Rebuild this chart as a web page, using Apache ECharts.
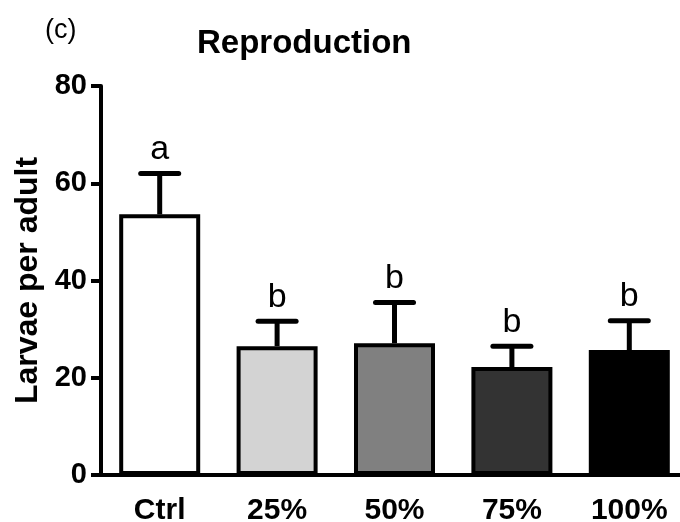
<!DOCTYPE html>
<html>
<head>
<meta charset="utf-8">
<title>Reproduction</title>
<script src="https://cdn.jsdelivr.net/npm/echarts@6/dist/echarts.min.js"></script>
<style>
    html, body { margin: 0; padding: 0; background: #fff; }
    #chart { width: 680px; height: 522px; }
</style>
</head>
<body>
<div id="chart"></div>
<script>
// data
var categories = ["Ctrl", "25%", "50%", "75%", "100%"];
var means = [53.6, 26.5, 27.1, 22.2, 25.7];
var errors = [8.4, 5.1, 8.4, 4.3, 6.0];
var letters = ["a", "b", "b", "b", "b"];
var barColors = ["#ffffff", "#d3d3d3", "#808080", "#333333", "#000000"];
var yTicks = [0, 20, 40, 60, 80];

var font = "'Liberation Sans', Arial, sans-serif";
var chart = echarts.init(document.getElementById("chart"));

var options = {
    animation: false,
    backgroundColor: "#fff",
    title: [
        {
            text: "Reproduction",
            left: 197,
            top: 27,
            padding: 0,
            textStyle: { fontFamily: font, fontSize: 33, fontWeight: "bold", color: "#000" }
        },
        {
            text: "(c)",
            left: 45,
            top: 17,
            padding: 0,
            textStyle: { fontFamily: font, fontSize: 27, fontWeight: "normal", color: "#000" }
        }
    ],
    grid: {
        left: 101,
        top: 86,
        width: 587,
        height: 389,
        containLabel: false,
        outerBoundsMode: "none"
    },
    xAxis: {
        type: "category",
        data: categories,
        axisLine: { lineStyle: { color: "#000", width: 4 } },
        axisTick: { alignWithLabel: true, length: 10, lineStyle: { color: "#000", width: 4 } },
        axisLabel: { margin: 21, fontFamily: font, fontSize: 30, fontWeight: "bold", color: "#000" },
        splitLine: { show: false }
    },
    yAxis: {
        type: "value",
        min: yTicks[0],
        max: yTicks[yTicks.length - 1],
        interval: 20,
        name: "Larvae per adult",
        nameLocation: "middle",
        nameGap: 57,
        nameTextStyle: { fontFamily: font, fontSize: 32, fontWeight: "bold", color: "#000" },
        axisLine: { show: true, lineStyle: { color: "#000", width: 4 } },
        axisTick: { show: true, length: 10, lineStyle: { color: "#000", width: 4 } },
        axisLabel: { margin: 14, fontFamily: font, fontSize: 29, fontWeight: "bold", color: "#000" },
        splitLine: { show: false }
    },
    series: [
        {
            type: "bar",
            barWidth: 81,
            data: means.map(function (v, i) {
                return { value: v, itemStyle: { color: barColors[i] } };
            }),
            itemStyle: { borderColor: "#000", borderWidth: 4 },
            z: 2
        },
        {
            type: "custom",
            z: 3,
            data: means.map(function (v, i) { return [i, v, errors[i]]; }),
            renderItem: function (params, api) {
                var base = api.coord([api.value(0), api.value(1)]);
                var top = api.coord([api.value(0), api.value(1) + api.value(2)]);
                var style = { stroke: "#000", lineWidth: 5, lineCap: "round" };
                return {
                    type: "group",
                    children: [
                        { type: "line", shape: { x1: base[0], y1: base[1], x2: top[0], y2: top[1] }, style: { stroke: "#000", lineWidth: 5 } },
                        { type: "line", shape: { x1: top[0] - 19, y1: top[1], x2: top[0] + 19, y2: top[1] }, style: style },
                        {
                            type: "text",
                            x: top[0],
                            y: top[1] - 7,
                            style: {
                                text: letters[params.dataIndex],
                                fontFamily: font,
                                fontSize: 34,
                                fill: "#000",
                                align: "center",
                                verticalAlign: "bottom"
                            }
                        }
                    ]
                };
            }
        }
    ]
};

chart.setOption(options, true);
</script>
</body>
</html>
